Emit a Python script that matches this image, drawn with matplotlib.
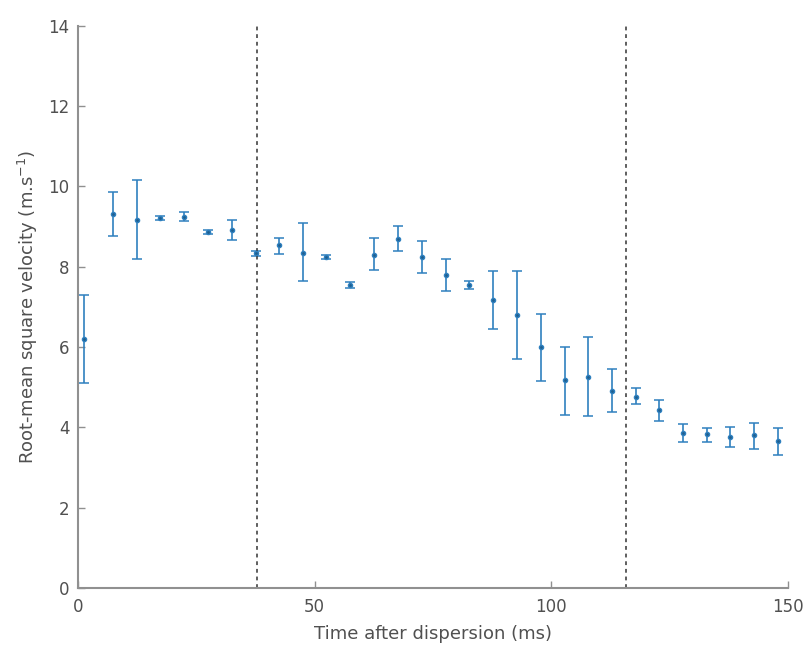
import matplotlib
matplotlib.use("Agg")
import matplotlib.pyplot as plt

# time after dispersion (ms)
t = [1.3, 7.5, 12.4, 17.4, 22.4, 27.5, 32.5, 37.7, 42.5, 47.6,
     52.4, 57.5, 62.6, 67.6, 72.7, 77.7, 82.7, 87.8, 92.8, 97.9,
     102.9, 107.9, 112.9, 117.9, 122.9, 127.9, 132.9, 137.9, 142.9, 147.9]
# rms velocity (m/s)
v = [6.19, 9.32, 9.17, 9.22, 9.24, 8.86, 8.92, 8.33, 8.53, 8.34,
     8.24, 7.54, 8.28, 8.68, 8.24, 7.79, 7.54, 7.16, 6.79, 6.0,
     5.17, 5.26, 4.91, 4.76, 4.43, 3.85, 3.83, 3.76, 3.81, 3.66]
# upper / lower error bar ends
v_hi = [7.3, 9.86, 10.15, 9.27, 9.35, 8.91, 9.15, 8.4, 8.72, 9.08,
        8.29, 7.62, 8.7, 9.0, 8.63, 8.18, 7.64, 7.89, 7.89, 6.83,
        5.99, 6.24, 5.44, 4.97, 4.69, 4.08, 3.97, 4.01, 4.11, 3.97]
v_lo = [5.11, 8.75, 8.2, 9.17, 9.13, 8.81, 8.65, 8.26, 8.31, 7.63,
        8.19, 7.46, 7.91, 8.38, 7.85, 7.4, 7.43, 6.44, 5.69, 5.16,
        4.3, 4.28, 4.39, 4.58, 4.16, 3.64, 3.64, 3.51, 3.45, 3.31]
# phase boundaries (ms)
bounds = [37.8, 115.9]

err_lo = [a - b for a, b in zip(v, v_lo)]
err_hi = [b - a for a, b in zip(v, v_hi)]

fig = plt.figure(figsize=(8.12, 6.48), dpi=100)
ax = fig.add_axes([0.096, 0.0926, 0.874, 0.868])
ax.errorbar(t, v, yerr=[err_lo, err_hi], fmt='.', color='#2f80bf',
            mfc='#1f5f8f', mec='#2f80bf', markersize=6,
            elinewidth=1.2, capsize=3.5, capthick=1.1)
for b in bounds:
    ax.axvline(b, color='#333333', linestyle=(0, (2.5, 2.5)), linewidth=1.1)

ax.set_xlim(0, 150)
ax.set_ylim(0, 14)
ax.set_xticks([0, 50, 100, 150])
ax.set_yticks(range(0, 15, 2))
ax.spines['top'].set_visible(False)
ax.spines['right'].set_visible(False)
for s in ['left', 'bottom']:
    ax.spines[s].set_color('#909090')
    ax.spines[s].set_linewidth(1.5)
ax.tick_params(direction='in', length=5, width=1.0, colors='#909090',
               labelcolor='#505050', labelsize=12)
ax.tick_params(axis='x', pad=7)
ax.tick_params(axis='y', pad=6)
ax.set_xlabel('Time after dispersion (ms)', fontsize=13, color='#505050', labelpad=7)
ax.set_ylabel('Root-mean square velocity (m.s$^{-1}$)', fontsize=13, color='#505050', labelpad=6)
fig.savefig('out.png', dpi=100)
